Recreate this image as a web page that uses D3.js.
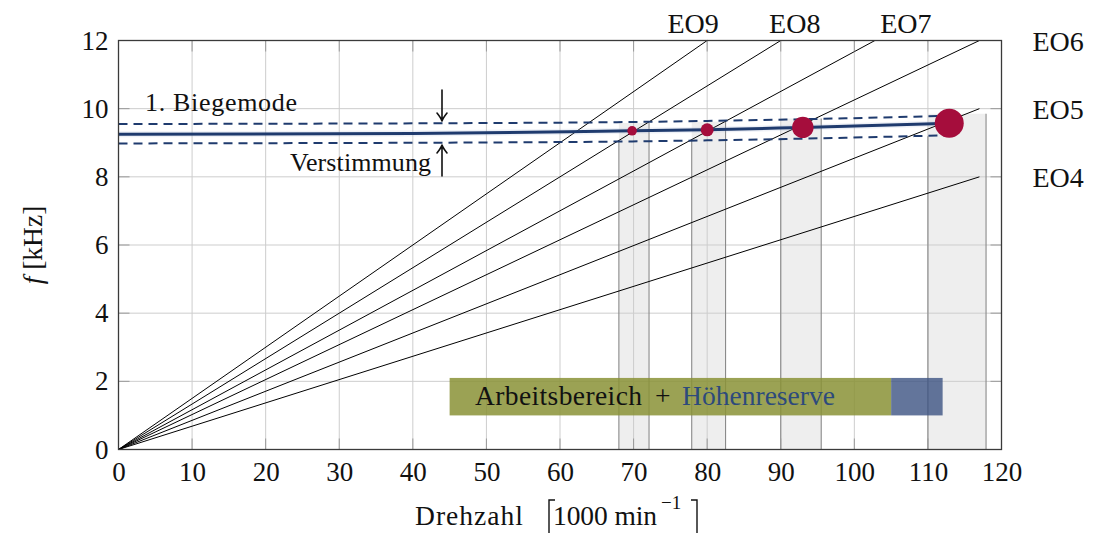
<!DOCTYPE html>
<html>
<head>
<meta charset="utf-8">
<script src="https://cdn.jsdelivr.net/npm/d3@7"></script>
<style>
  html, body { margin: 0; padding: 0; background: #fff; }
  svg { display: block; }
  svg text { font-family: "Liberation Serif", serif; }
</style>
</head>
<body>
<svg id="chart" width="1095" height="533" font-family="Liberation Serif"></svg>
<script>
// Campbell diagram: engine orders vs. first bending mode

const xTicks = [0, 10, 20, 30, 40, 50, 60, 70, 80, 90, 100, 110, 120];
const yTicks = [0, 2, 4, 6, 8, 10, 12];

// engine-order lines, drawn from the origin to their end point
const eoNames = ["EO4", "EO5", "EO6", "EO7", "EO8", "EO9"];
const eoEndN  = [117, 117, 117, 102.8, 90, 80];
const eoEndF  = [8, 10, 12, 12, 12, 12];

// first bending mode (speed in 1000 min^-1, frequency in kHz)
const modeN = [0, 40, 69.8, 80, 93, 112.9];
const modeF = [9.25, 9.27, 9.35, 9.38, 9.45, 9.57];

// detuning band around the mode
const bandN     = [0, 60, 80, 93, 112.9];
const bandUpper = [9.55, 9.59, 9.64, 9.69, 9.79];
const bandLower = [8.98, 9.02, 9.07, 9.12, 9.22];

// resonance crossings
const resN = [69.8, 80, 93, 112.9];
const resF = [9.35, 9.38, 9.45, 9.57];

// speed ranges swept by the detuning at each crossing
const zoneFrom  = [68.0, 77.9, 90.0, 110.0];
const zoneTo    = [72.1, 82.5, 95.5, 117.9];
const zoneFLow  = [9.02, 9.05, 9.12, 9.19];
const zoneFHigh = [9.58, 9.62, 9.71, 9.85];

// operating range and height reserve
const workRange    = [45, 105];
const reserveRange = [105, 112];

// ---------------------------------------------------------------
const FONT = "Liberation Serif";
const BIG = 27.5;
const svg = d3.select("#chart");
const L = 118.5, R = 1001.5, T = 40.5, B = 449.5;

const x = d3.scaleLinear().domain([0, 120]).range([L, R]);
const y = d3.scaleLinear().domain([0, 12]).range([B, T]);

const navy = "#1f3b6e";
const crimson = "#a50d3c";

function label(parent, px, py, size, str, len) {
  const t = parent.append("text").attr("x", px).attr("y", py)
    .attr("font-family", FONT).attr("font-size", size).attr("fill", "#111").text(str);
  if (len) t.attr("textLength", len).attr("lengthAdjust", "spacing");
  return t;
}

// detuning zones (light fill)
const zones = zoneFrom.map((n, i) => ({ n0: n, n1: zoneTo[i], fl: zoneFLow[i], fh: zoneFHigh[i] }));
svg.append("g").selectAll("rect").data(zones).join("rect")
  .attr("x", d => x(d.n0)).attr("width", d => x(d.n1) - x(d.n0))
  .attr("y", d => y(d.fh)).attr("height", d => y(0) - y(d.fh))
  .attr("fill", "#eeeeee");

// grid
const grid = svg.append("g").attr("stroke", "#cdcdcd").attr("stroke-width", 1);
grid.selectAll("line.gx").data(xTicks).join("line")
  .attr("x1", d => x(d)).attr("x2", d => x(d)).attr("y1", T).attr("y2", B);
grid.selectAll("line.gy").data(yTicks).join("line")
  .attr("y1", d => y(d)).attr("y2", d => y(d)).attr("x1", L).attr("x2", R);

// zone edges
const edges = svg.append("g").attr("stroke", "#8a8a8a").attr("stroke-width", 1.1);
zones.forEach(d => {
  edges.append("line").attr("x1", x(d.n0)).attr("x2", x(d.n0)).attr("y1", y(d.fl)).attr("y2", y(0));
  edges.append("line").attr("x1", x(d.n1)).attr("x2", x(d.n1)).attr("y1", y(d.fh)).attr("y2", y(0));
});

// engine-order lines
const eo = eoNames.map((name, i) => ({ name, n: eoEndN[i], f: eoEndF[i] }));
svg.append("g").selectAll("line").data(eo).join("line")
  .attr("x1", x(0)).attr("y1", y(0))
  .attr("x2", d => x(d.n)).attr("y2", d => y(d.f))
  .attr("stroke", "#000").attr("stroke-width", 1);

// bending mode and its detuning band
const modeLine = d3.line().x(d => x(d[0])).y(d => y(d[1])).curve(d3.curveMonotoneX);
const modePts = modeN.map((n, i) => [n, modeF[i]]);
svg.append("path").attr("d", modeLine(modePts))
  .attr("fill", "none").attr("stroke", "#9fb2d2").attr("stroke-opacity", 0.18).attr("stroke-width", 6);
svg.append("path").attr("d", modeLine(bandN.map((n, i) => [n, bandUpper[i]])))
  .attr("fill", "none").attr("stroke", navy).attr("stroke-width", 2).attr("stroke-dasharray", "9,6");
svg.append("path").attr("d", modeLine(bandN.map((n, i) => [n, bandLower[i]])))
  .attr("fill", "none").attr("stroke", navy).attr("stroke-width", 2).attr("stroke-dasharray", "9,6");
svg.append("path").attr("d", modeLine(modePts))
  .attr("fill", "none").attr("stroke", navy).attr("stroke-width", 3);

// resonance markers
const dotRadius = [4.8, 6.5, 10.7, 14.5];
svg.append("g").selectAll("circle").data(resN.map((n, i) => ({ n, f: resF[i], r: dotRadius[i] }))).join("circle")
  .attr("cx", d => x(d.n)).attr("cy", d => y(d.f)).attr("r", d => d.r)
  .attr("fill", crimson);

// ticks (inside, all four sides)
const tk = svg.append("g").attr("stroke", "#9a9a9a").attr("stroke-width", 1);
const tl = 11;
xTicks.forEach(t => {
  tk.append("line").attr("x1", x(t)).attr("x2", x(t)).attr("y1", B).attr("y2", B - tl);
  tk.append("line").attr("x1", x(t)).attr("x2", x(t)).attr("y1", T).attr("y2", T + tl);
});
yTicks.forEach(t => {
  tk.append("line").attr("y1", y(t)).attr("y2", y(t)).attr("x1", L).attr("x2", L + tl);
  tk.append("line").attr("y1", y(t)).attr("y2", y(t)).attr("x1", R).attr("x2", R - tl);
});

// frame
svg.append("rect").attr("x", L).attr("y", T).attr("width", R - L).attr("height", B - T)
  .attr("fill", "none").attr("stroke", "#3a3a3a").attr("stroke-width", 1.3);

// axes via d3 (labels only; ticks and frame drawn above)
const xAxis = svg.append("g").attr("transform", `translate(0,${B})`)
  .call(d3.axisBottom(x).tickValues(xTicks).tickSize(0).tickPadding(12).tickFormat(d3.format("d")));
const yAxis = svg.append("g").attr("transform", `translate(${L},0)`)
  .call(d3.axisLeft(y).tickValues(yTicks).tickSize(0).tickPadding(10).tickFormat(d3.format("d")));
[xAxis, yAxis].forEach(g => {
  g.attr("font-family", FONT);
  g.select(".domain").remove();
  g.selectAll("text").attr("font-family", FONT).attr("font-size", 27).attr("fill", "#111");
});
xAxis.selectAll("text").attr("dy", "0.72em");

// engine-order labels
const topDx = { EO7: 31, EO8: 14, EO9: -14 };
eo.forEach(d => {
  if (d.n >= 117) {
    label(svg, R + 31, y(d.f) + 10, 28, d.name);
  } else {
    label(svg, x(d.n) + topDx[d.name], 33, 28, d.name).attr("text-anchor", "middle");
  }
});

// mode annotation and detuning arrows
label(svg, 145, 111, 26, "1. Biegemode", 152);
label(svg, 290, 171, 26, "Verstimmung", 141);
function arrow(xp, yFrom, yTo) {
  const dir = yTo > yFrom ? 1 : -1;
  const p = d3.path();
  p.moveTo(xp, yFrom); p.lineTo(xp, yTo);
  p.moveTo(xp - 5, yTo - dir * 8); p.quadraticCurveTo(xp - 1, yTo - dir * 3, xp, yTo);
  p.moveTo(xp + 5, yTo - dir * 8); p.quadraticCurveTo(xp + 1, yTo - dir * 3, xp, yTo);
  svg.append("path").attr("d", p.toString()).attr("fill", "none")
    .attr("stroke", "#111").attr("stroke-width", 1.6).attr("stroke-linecap", "round");
}
arrow(442, 90, 121);
arrow(442, 176, 145);

// operating range + height reserve
const boxF = [1.0, 2.1];
svg.append("rect").attr("x", x(workRange[0])).attr("width", x(workRange[1]) - x(workRange[0]))
  .attr("y", y(boxF[1])).attr("height", y(boxF[0]) - y(boxF[1]))
  .attr("fill", "#8a9236").attr("fill-opacity", 0.85);
svg.append("rect").attr("x", x(reserveRange[0])).attr("width", x(reserveRange[1]) - x(reserveRange[0]))
  .attr("y", y(boxF[1])).attr("height", y(boxF[0]) - y(boxF[1]))
  .attr("fill", "#3c5282").attr("fill-opacity", 0.8);
label(svg, 475, 405, BIG, "Arbeitsbereich", 167);
label(svg, 655, 405, BIG, "+");
label(svg, 682, 405, BIG, "Höhenreserve", 153).attr("fill", "#2d4a7c");

// axis titles
label(svg, 415, 525, BIG, "Drehzahl", 108);
label(svg, 553, 525, BIG, "1000 min", 104);
label(svg, 661, 509, 19, "−1");
svg.append("path").attr("d", "M549,540 V500 H555 M697,540 V500 H691")
  .attr("fill", "none").attr("stroke", "#111").attr("stroke-width", 1.4);

const yt = label(svg, 0, 0, BIG, null)
  .attr("transform", "translate(42,245) rotate(-90)").attr("text-anchor", "middle");
yt.append("tspan").attr("font-style", "italic").text("f");
yt.append("tspan").text(" [kHz]");
</script>
</body>
</html>
